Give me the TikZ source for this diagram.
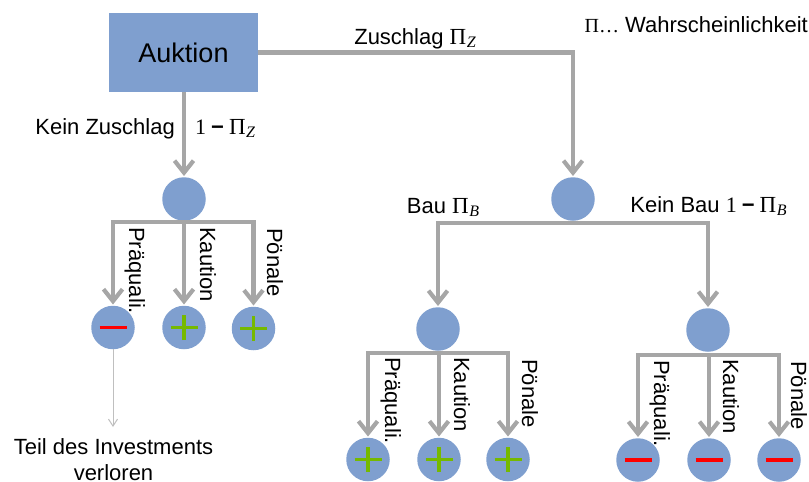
\documentclass[tikz,border=0pt]{standalone}
\usepackage{fontspec}
\setmainfont{Liberation Sans}
\newfontfamily\mathf{Liberation Serif}
\usetikzlibrary{arrows.meta}
\definecolor{boxblue}{HTML}{7F9FCF}
\definecolor{linegrey}{HTML}{A6A6A6}
\definecolor{plusgreen}{HTML}{76B900}
\newcommand{\piz}[1]{{\mathf\fontsize{23}{24}\selectfont Π\kern0.5pt\raisebox{-3.5pt}{\fontsize{16}{16}\selectfont\itshape #1}}}
\newcommand{\oneminus}{{\mathf\fontsize{22}{24}\selectfont 1\kern5pt}{\fontsize{22}{24}\selectfont\bfseries −}\kern5pt}
\tikzset{
  x=1pt,y=-1pt,
  pnode/.style={circle,fill=boxblue,inner sep=0pt,minimum size=43.5pt},
  flow/.style={draw=linegrey,line width=4.2pt,line join=miter},
  arr/.style={flow,-{Straight Barb[length=12pt,width=19pt,line width=4.2pt]},shorten >=1pt},
  txt/.style={font=\fontsize{22}{26}\selectfont,inner sep=0pt,text=black},
  sgn/.style={line width=3.6pt},
}
\newcommand{\plussign}[1]{\draw[plusgreen,sgn] ([xshift=-13.5pt]#1.center) -- ([xshift=13.5pt]#1.center) ([yshift=-12.5pt]#1.center) -- ([yshift=12.5pt]#1.center);}
\newcommand{\minussign}[1]{\draw[red,sgn] ([xshift=-13.5pt]#1.center) -- ([xshift=13.5pt]#1.center);}
\begin{document}
\begin{tikzpicture}
\useasboundingbox (0,0) rectangle (809,482);
% nodes
\node[fill=boxblue,inner sep=0pt,minimum width=149pt,minimum height=79pt,font=\fontsize{27}{30}\selectfont] (auk) at (183.5,52.5) {Auktion};
\node[pnode] (a) at (184,199) {};
\node[pnode] (b) at (573,199) {};
\node[pnode] (bl) at (438,329) {};
\node[pnode] (br) at (708,330) {};
\node[pnode] (a1) at (113,327.5) {};
\node[pnode] (a2) at (184,327.5) {};
\node[pnode] (a3) at (253.5,328.5) {};
\node[pnode] (l1) at (368,459.5) {};
\node[pnode] (l2) at (439,459.5) {};
\node[pnode] (l3) at (508,459.5) {};
\node[pnode] (r1) at (638,460) {};
\node[pnode] (r2) at (709,460) {};
\node[pnode] (r3) at (779,460) {};
% signs
\minussign{a1}\plussign{a2}\plussign{a3}
\plussign{l1}\plussign{l2}\plussign{l3}
\minussign{r1}\minussign{r2}\minussign{r3}
% bars
\coordinate (abar) at (184,222);
\coordinate (bbar) at (573,222.7);
\coordinate (lbar) at (439,353);
\coordinate (rbar) at (709,354.7);
% connectors
\draw[arr] (auk.east) -| (b.north);
\draw[arr] (auk.south -| a.north) -- (a.north);
\draw[flow] ([xshift=-2.1pt]abar -| a1) -- ([xshift=2.1pt]abar -| a3);
\draw[flow] ([xshift=-2.1pt]bbar -| bl) -- ([xshift=2.1pt]bbar -| br);
\draw[flow] ([xshift=-2.1pt]lbar -| l1) -- ([xshift=2.1pt]lbar -| l3);
\draw[flow] ([xshift=-2.1pt]rbar -| r1) -- ([xshift=2.1pt]rbar -| r3);
\foreach \c in {a1,a2,a3}{\draw[arr] (abar -| \c) -- (\c.north);}
\draw[arr] (bbar -| bl) -- (bl.north);
\draw[arr] (bbar -| br) -- (br.north);
\foreach \c in {l1,l2,l3}{\draw[arr] (lbar -| \c) -- (\c.north);}
\foreach \c in {r1,r2,r3}{\draw[arr] (rbar -| \c) -- (\c.north);}
\coordinate (lost) at (113,427);
\draw[draw=black!25,line width=1pt,-{Straight Barb[length=7pt,width=9pt]}] (a1.south) -- (lost);
% labels
\node[txt,anchor=base] (tz) at (415,44) {Zuschlag \piz{Z}};
\node[txt,anchor=base east] (tw) at (808,32) {{\mathf\fontsize{20}{24}\selectfont Π…} Wahrscheinlichkeit};
\node[txt,anchor=base east] (tk) at (175,134) {Kein Zuschlag};
\node[txt,anchor=base west] (tk2) at (195,134) {\oneminus\piz{Z}};
\node[txt,anchor=base] (tb) at (443,213) {Bau \piz{B}};
\node[txt,anchor=base] (tkb) at (708.5,212) {Kein Bau \oneminus\piz{B}};
\foreach \x/\y/\t in {129/227/Präquali.,200/227/Kaution,267/228/Pönale,
  385/357/Präquali.,454/357/Kaution,522/359/Pönale,
  654/360/Präquali.,723/359/Kaution,791/361/Pönale}{
  \node[txt,rotate=-90,anchor=base west] at (\x,\y) {\t};
}
\node[txt,anchor=base] (inv) at (113.5,454) {Teil des Investments};
\node[txt,anchor=base] (inv2) at (113.5,480.5) {verloren};
\end{tikzpicture}
\end{document}
